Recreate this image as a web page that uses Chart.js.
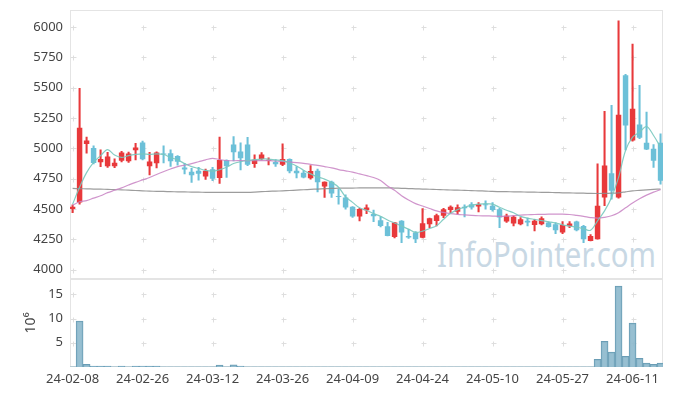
<!DOCTYPE html>
<html>
<head>
<meta charset="utf-8">
<script src="https://cdn.jsdelivr.net/npm/chart.js@4.4.1/dist/chart.umd.min.js"></script>
<style>
  html, body { margin: 0; padding: 0; background: #fff; }
  #wrap { position: relative; width: 673px; height: 396px; }
  #mark { position: absolute; left: 0; top: 0; }
  canvas { position: absolute; left: 0; top: 0; }
</style>
</head>
<body>
<div id="wrap">
  <svg id="mark" width="673" height="396">
    <text x="437" y="267" textLength="219" lengthAdjust="spacingAndGlyphs"
          font-family="'Noto Sans', sans-serif" font-size="34" fill="#c8d8e4">InfoPointer.com</text>
  </svg>
  <canvas id="stockChart" width="673" height="396"></canvas>
</div>
<script>
// trading days
const dates = [
  '2024-02-08','2024-02-13','2024-02-14','2024-02-15','2024-02-16','2024-02-19','2024-02-20','2024-02-21','2024-02-22','2024-02-23',
  '2024-02-26','2024-02-27','2024-02-28','2024-02-29','2024-03-04','2024-03-05','2024-03-06','2024-03-07','2024-03-08','2024-03-11',
  '2024-03-12','2024-03-13','2024-03-14','2024-03-15','2024-03-18','2024-03-19','2024-03-20','2024-03-21','2024-03-22','2024-03-25',
  '2024-03-26','2024-03-27','2024-03-28','2024-03-29','2024-04-01','2024-04-02','2024-04-03','2024-04-04','2024-04-05','2024-04-08',
  '2024-04-09','2024-04-11','2024-04-12','2024-04-15','2024-04-16','2024-04-17','2024-04-18','2024-04-19','2024-04-22','2024-04-23',
  '2024-04-24','2024-04-25','2024-04-26','2024-04-29','2024-04-30','2024-05-02','2024-05-03','2024-05-07','2024-05-08','2024-05-09',
  '2024-05-10','2024-05-13','2024-05-14','2024-05-16','2024-05-17','2024-05-20','2024-05-21','2024-05-22','2024-05-23','2024-05-24',
  '2024-05-27','2024-05-28','2024-05-29','2024-05-30','2024-05-31','2024-06-03','2024-06-04','2024-06-05','2024-06-07','2024-06-10',
  '2024-06-11','2024-06-12','2024-06-13','2024-06-14','2024-06-17'
];

const open = [
  4500,4555,5037,5004,4885,4852,4852,4899,4893,4985,
  5048,4852,4877,4955,4960,4938,4843,4808,4816,4769,
  4827,4756,4905,5031,4974,5031,4872,4913,4899,4888,
  4866,4913,4816,4800,4753,4816,4686,4725,4606,4595,
  4518,4438,4491,4460,4408,4358,4270,4403,4278,4306,
  4264,4375,4402,4444,4493,4477,4518,4540,4521,4540,
  4527,4499,4397,4380,4375,4403,4369,4375,4389,4375,
  4306,4358,4397,4361,4237,4251,4595,4794,4595,5603,
  5065,5197,5046,4996,5046
];
const high = [
  4535,5495,5092,5021,4988,4968,4913,4976,4970,5042,
  5060,4968,4971,5020,4988,4940,4877,4835,4843,4830,
  4843,5092,4905,5098,5046,5090,4946,4965,4922,4907,
  5037,4913,4849,4816,4858,4830,4725,4730,4665,4618,
  4520,4507,4535,4491,4436,4390,4390,4405,4333,4314,
  4504,4425,4458,4507,4527,4535,4535,4554,4554,4568,
  4554,4507,4458,4444,4430,4425,4416,4436,4395,4389,
  4397,4397,4400,4365,4290,4872,5305,5354,6050,5611,
  5859,5520,5300,5031,5120
];
const low = [
  4470,4540,4960,4872,4850,4843,4840,4888,4885,4905,
  4905,4781,4839,4880,4852,4862,4789,4720,4738,4745,
  4733,4711,4760,4897,4822,4858,4843,4905,4864,4852,
  4858,4797,4756,4756,4747,4642,4595,4595,4541,4499,
  4432,4402,4463,4397,4353,4278,4262,4223,4259,4223,
  4262,4347,4361,4430,4471,4458,4436,4499,4477,4499,
  4482,4347,4389,4361,4369,4361,4320,4369,4350,4298,
  4298,4347,4320,4223,4237,4251,4527,4582,4590,4988,
  5060,5079,4990,4843,4706
];
const close = [
  4518,5170,5065,4880,4913,4932,4882,4965,4958,5007,
  4910,4891,4965,4950,4893,4890,4825,4778,4791,4816,
  4750,4905,4852,4968,4918,4866,4907,4949,4905,4869,
  4913,4811,4794,4761,4813,4720,4725,4628,4600,4512,
  4438,4501,4512,4441,4361,4278,4389,4306,4266,4251,
  4383,4425,4450,4499,4518,4514,4507,4512,4540,4532,
  4493,4430,4444,4436,4416,4390,4403,4425,4353,4325,
  4369,4380,4325,4251,4278,4527,4858,4651,5277,5189,
  5327,5087,4990,4899,4733
];

// moving average lines
const ma5 = [
  4540,4680,4800,4885,4940,4990,4945,4925,4940,4950,
  4955,4950,4955,4950,4925,4905,4875,4850,4835,4818,
  4812,4825,4845,4875,4890,4900,4907,4912,4912,4905,
  4899,4880,4855,4820,4790,4765,4747,4720,4680,4600,
  4555,4510,4490,4462,4440,4410,4385,4360,4335,4308,
  4318,4340,4362,4416,4465,4495,4515,4530,4540,4545,
  4540,4515,4490,4470,4440,4425,4415,4405,4395,4385,
  4370,4360,4350,4338,4325,4403,4485,4595,4761,4982,
  5092,5133,5180,5106,5010
];
const ma20 = [
  4530,4560,4570,4590,4610,4635,4655,4675,4698,4720,
  4740,4760,4785,4808,4830,4850,4862,4875,4890,4905,
  4918,4908,4900,4898,4899,4899,4898,4899,4899,4896,
  4893,4888,4882,4877,4868,4860,4850,4840,4825,4815,
  4805,4790,4775,4760,4735,4690,4655,4610,4575,4545,
  4525,4505,4485,4472,4462,4456,4452,4448,4445,4444,
  4442,4440,4442,4446,4450,4453,4455,4456,4458,4458,
  4458,4455,4448,4440,4430,4425,4432,4445,4470,4510,
  4550,4585,4615,4640,4660
];
const ma120 = [
  4670,4668,4667,4665,4664,4662,4660,4658,4656,4653,
  4650,4648,4646,4645,4643,4642,4641,4640,4639,4638,
  4637,4637,4637,4638,4638,4638,4640,4643,4646,4648,
  4650,4653,4656,4659,4662,4665,4668,4670,4672,4673,
  4673,4674,4674,4675,4675,4675,4673,4671,4669,4667,
  4665,4663,4661,4659,4657,4656,4654,4652,4650,4648,
  4645,4644,4643,4642,4641,4640,4639,4638,4637,4636,
  4634,4633,4632,4631,4629,4628,4629,4631,4634,4642,
  4650,4654,4658,4662,4665
];

// volume in millions of shares
const volume = [
  0.05,9.5,0.53,0.18,0.18,0.18,0.05,0.18,0.05,0.18,
  0.2,0.18,0.18,0.05,0.05,0.05,0.05,0.05,0.05,0.05,
  0.05,0.4,0.05,0.45,0.2,0.05,0.05,0.05,0.05,0.05,
  0.05,0.05,0.05,0.05,0.05,0.05,0.05,0.05,0.05,0.05,
  0.05,0.05,0.05,0.05,0.05,0.05,0.05,0.05,0.05,0.05,
  0.05,0.05,0.05,0.05,0.05,0.05,0.05,0.05,0.05,0.05,
  0.05,0.05,0.05,0.05,0.05,0.05,0.05,0.05,0.05,0.05,
  0.05,0.05,0.05,0.05,0.05,1.57,5.3,3.08,16.7,2.18,
  9.07,1.77,0.8,0.53,0.8
];

// tick positions
const dateTicks = [0, 10, 20, 30, 40, 50, 60, 70, 80];
const priceTicks = [4000, 4250, 4500, 4750, 5000, 5250, 5500, 5750, 6000];
const volumeTicks = [0, 5, 10, 15];

const UP = '#e8393b';
const DOWN = '#6cc0d8';
const candleColor = dates.map((d, i) => close[i] >= open[i] ? UP : DOWN);
const pts = arr => arr.map((v, i) => ({ x: i, y: v }));
const fixTicks = list => s => { s.ticks = list.map(v => ({ value: v })); };
const fixWidth = s => { s.width = 70; s.paddingTop = 0; s.paddingBottom = 0; };

// + marks at tick crossings and panel frames
const panelMarks = {
    id: 'panelMarks',
    beforeDatasetsDraw(chart) {
        const { ctx, scales: { x, y, yv } } = chart;
        ctx.save();
        ctx.lineWidth = 1;
        [y, yv].forEach(s => {
            ctx.strokeStyle = '#dedede';
            s.ticks.forEach(t => {
                if (t.value === 0) return;
                const py = Math.round(s.getPixelForValue(t.value)) + 0.5;
                x.ticks.forEach(xt => {
                    const px = Math.round(x.getPixelForValue(xt.value)) + 0.5;
                    ctx.beginPath();
                    ctx.moveTo(px - 2, py); ctx.lineTo(px + 3, py);
                    ctx.moveTo(px, py - 2); ctx.lineTo(px, py + 3);
                    ctx.stroke();
                });
                const lx = Math.round(x.left) + 0.5;
                ctx.beginPath();
                ctx.moveTo(lx, py); ctx.lineTo(lx + 3, py);
                ctx.stroke();
            });
            ctx.strokeStyle = '#e4e4e4';
            const l = Math.round(x.left) + 0.5, r = Math.round(x.right) - 0.5;
            const t = Math.round(s.top) + 0.5, b = Math.round(s.bottom) - 0.5;
            ctx.strokeRect(l, t, r - l, b - t);
        });
        ctx.restore();
    }
};

Chart.defaults.font.family = "'Noto Sans', sans-serif";
Chart.defaults.font.size = 13;
Chart.defaults.color = '#444';

new Chart(document.getElementById('stockChart'), {
    data: {
        datasets: [
            {
                type: 'line', label: 'MA5', data: pts(ma5), yAxisID: 'y', order: 0,
                borderColor: 'rgba(120,200,190,0.9)', borderWidth: 1.2, pointRadius: 0, tension: 0.35
            },
            {
                type: 'line', label: 'MA20', data: pts(ma20), yAxisID: 'y', order: 0,
                borderColor: 'rgba(200,130,195,0.85)', borderWidth: 1.2, pointRadius: 0, tension: 0.35
            },
            {
                type: 'line', label: 'MA120', data: pts(ma120), yAxisID: 'y', order: 0,
                borderColor: 'rgba(140,140,140,0.85)', borderWidth: 1.2, pointRadius: 0, tension: 0.35
            },
            {
                type: 'bar', label: 'body', yAxisID: 'y', order: 1, grouped: false,
                data: dates.map((d, i) => ({ x: i, y: [open[i], close[i]] })),
                backgroundColor: candleColor, barPercentage: 0.78, categoryPercentage: 1, minBarLength: 1
            },
            {
                type: 'bar', label: 'wick', yAxisID: 'y', order: 2, grouped: false,
                data: dates.map((d, i) => ({ x: i, y: [low[i], high[i]] })),
                backgroundColor: candleColor, barThickness: 1.4
            },
            {
                type: 'bar', label: 'volume', yAxisID: 'yv', order: 3, grouped: false,
                data: pts(volume),
                backgroundColor: 'rgba(140,184,204,0.9)', borderColor: '#6a9db5', borderWidth: 1,
                barPercentage: 1, categoryPercentage: 1
            }
        ]
    },
    options: {
        responsive: false,
        animation: false,
        layout: { padding: { top: 10, right: 10, bottom: 9, left: 0 } },
        plugins: { legend: { display: false }, tooltip: { enabled: false } },
        scales: {
            x: {
                type: 'linear', min: -0.37, max: 84.35, offset: false,
                grid: { display: false, drawTicks: false, offset: false }, border: { display: false },
                ticks: {
                    autoSkip: false, maxRotation: 0, padding: 4,
                    callback: v => dates[v] ? dates[v].slice(2) : ''
                },
                afterBuildTicks: fixTicks(dateTicks),
                afterFit: s => { s.height = 20; s.paddingLeft = 0; s.paddingRight = 0; }
            },
            yv: {
                type: 'linear', position: 'left', stack: 'panel', stackWeight: 1,
                min: 0, max: 18.2, beginAtZero: false,
                grid: { display: false, drawTicks: false }, border: { display: false },
                ticks: { autoSkip: false, padding: 7, callback: v => v === 0 ? '' : String(v) },
                afterBuildTicks: fixTicks(volumeTicks),
                title: { display: true, text: '10⁶', font: { size: 14 }, padding: { top: 23, bottom: 0 } },
                afterFit: fixWidth
            },
            y: {
                type: 'linear', position: 'left', stack: 'panel', stackWeight: 3.05,
                min: 3925, max: 6140, beginAtZero: false,
                grid: { display: false, drawTicks: false }, border: { display: false },
                ticks: { autoSkip: false, padding: 7, callback: v => String(v) },
                afterBuildTicks: fixTicks(priceTicks),
                afterFit: fixWidth
            }
        }
    },
    plugins: [panelMarks]
});
</script>
</body>
</html>
